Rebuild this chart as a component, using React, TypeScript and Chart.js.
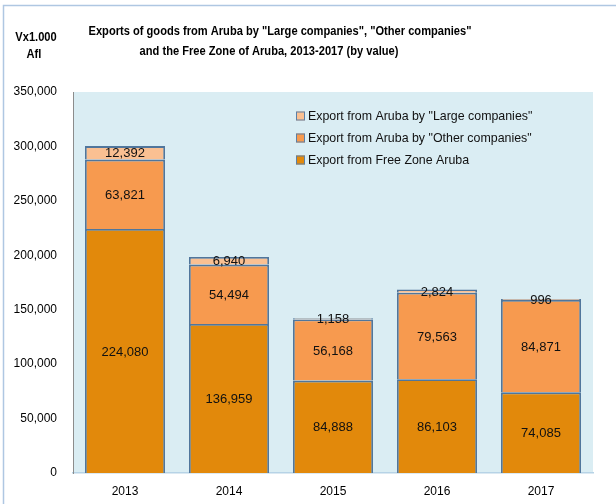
import React, { useEffect, useRef } from "react";
import { Chart, registerables } from "chart.js";

Chart.register(...registerables);

const categories = ["2013", "2014", "2015", "2016", "2017"];
const freeZone = [224080, 136959, 84888, 86103, 74085];
const otherCompanies = [63821, 54494, 56168, 79563, 84871];
const largeCompanies = [12392, 6940, 1158, 2824, 996];
const seriesNames = [
  'Export from Aruba by "Large companies"',
  'Export from Aruba by "Other companies"',
  "Export from Free Zone Aruba",
];
const titleLines = [
  'Exports of goods from Aruba by "Large companies", "Other companies"',
  "and the Free Zone of Aruba, 2013-2017 (by value)",
];
const unitLines = ["Vx1.000", "Afl"];

const COLORS = {
  free: "#E2890B",
  other: "#F79A4F",
  large: "#FAC092",
  border: "#50769C",
  plotBg: "#DAEDF3",
};
const FONT = "'Liberation Sans', Arial, sans-serif";

export default function App() {
  const ref = useRef<HTMLCanvasElement | null>(null);

  useEffect(() => {
    if (!ref.current) return;

    const drawNarrow = (ctx: CanvasRenderingContext2D, text: string, cx: number, cy: number, sx: number) => {
      ctx.save();
      ctx.translate(cx, cy);
      ctx.scale(sx, 1);
      ctx.fillText(text, 0, 0);
      ctx.restore();
    };

    const decorPlugin = {
      id: "decor",
      beforeDraw(chart: any) {
        const { ctx, chartArea } = chart;
        ctx.save();
        ctx.fillStyle = "#ffffff";
        ctx.fillRect(0, 0, chart.width, chart.height);
        ctx.fillStyle = COLORS.plotBg;
        ctx.fillRect(chartArea.left, chartArea.top, chartArea.right - chartArea.left, chartArea.bottom - chartArea.top);
        // outer frame
        ctx.strokeStyle = "#AFC7E2";
        ctx.lineWidth = 1.5;
        ctx.beginPath();
        ctx.moveTo(3.5, chart.height);
        ctx.lineTo(3.5, 5.5);
        ctx.lineTo(chart.width, 5.5);
        ctx.stroke();
        // titles
        ctx.fillStyle = "#000";
        ctx.font = `bold 13.5px ${FONT}`;
        ctx.textAlign = "center";
        ctx.textBaseline = "middle";
        const w1 = ctx.measureText(titleLines[0]).width;
        const sx = 383 / w1;
        drawNarrow(ctx, titleLines[0], 280, 31, sx);
        drawNarrow(ctx, titleLines[1], 269, 51, sx);
        drawNarrow(ctx, unitLines[0], 36, 37, sx);
        drawNarrow(ctx, unitLines[1], 34, 54, sx);
        ctx.restore();
      },
      afterDatasetsDraw(chart: any) {
        const { ctx } = chart;
        ctx.save();
        ctx.font = `13px ${FONT}`;
        ctx.fillStyle = "#111";
        ctx.textAlign = "center";
        ctx.textBaseline = "middle";
        chart.data.datasets.forEach((ds: any, di: number) => {
          const meta = chart.getDatasetMeta(di);
          meta.data.forEach((bar: any, i: number) => {
            const p = bar.getProps(["x", "y", "base"], true);
            const v = ds.data[i] as number;
            ctx.fillText(v.toLocaleString("en-US"), p.x, (p.y + p.base) / 2 + 1);
          });
        });
        // legend
        const items = [
          { label: seriesNames[0], color: COLORS.large },
          { label: seriesNames[1], color: COLORS.other },
          { label: seriesNames[2], color: COLORS.free },
        ];
        ctx.font = `12.4px ${FONT}`;
        ctx.textAlign = "left";
        items.forEach((it, k) => {
          const cy = 116 + k * 22;
          ctx.fillStyle = it.color;
          ctx.fillRect(296, cy - 4.5, 9, 9);
          ctx.strokeStyle = "#5B7FA6";
          ctx.lineWidth = 1;
          ctx.strokeRect(296.5, cy - 4, 8, 8);
          ctx.fillStyle = "#111";
          ctx.fillText(it.label, 308, cy + 1);
        });
        ctx.restore();
      },
    };

    const chart = new Chart(ref.current, {
      type: "bar",
      data: {
        labels: categories,
        datasets: [
          { label: seriesNames[2], data: freeZone, backgroundColor: COLORS.free, borderColor: COLORS.border, borderWidth: 1.8 },
          { label: seriesNames[1], data: otherCompanies, backgroundColor: COLORS.other, borderColor: COLORS.border, borderWidth: 1.8 },
          { label: seriesNames[0], data: largeCompanies, backgroundColor: COLORS.large, borderColor: COLORS.border, borderWidth: 1.8 },
        ],
      },
      options: {
        responsive: false,
        animation: false,
        layout: { padding: { left: 0, right: 23, top: 92, bottom: 0 } },
        plugins: { legend: { display: false }, tooltip: { enabled: false }, title: { display: false } },
        datasets: { bar: { categoryPercentage: 1, barPercentage: 0.77 } },
        scales: {
          x: {
            stacked: true,
            grid: { display: false, drawTicks: false },
            border: { color: "#B7D3E6", width: 1.5 },
            ticks: { color: "#000", font: { family: FONT, size: 12 }, padding: 11 },
            afterFit: (s: any) => { s.height = 31; },
          },
          y: {
            stacked: true,
            min: 0,
            max: 350000,
            grid: { display: false, drawOnChartArea: false, drawTicks: true, tickLength: 6, tickColor: "#8C8C8C" },
            border: { color: "#8C8C8C", width: 1 },
            ticks: {
              stepSize: 50000,
              color: "#000",
              padding: 10,
              font: { family: FONT, size: 12 },
              callback: (v: any) => Number(v).toLocaleString("en-US"),
            },
            afterFit: (s: any) => { s.width = 73; },
          },
        },
      },
      plugins: [decorPlugin],
    });
    return () => chart.destroy();
  }, []);

  return (
    <div style={{ position: "fixed", left: 0, top: 0, width: 616, height: 504 }}>
      <canvas ref={ref} width={616} height={504} style={{ display: "block" }} />
    </div>
  );
}
